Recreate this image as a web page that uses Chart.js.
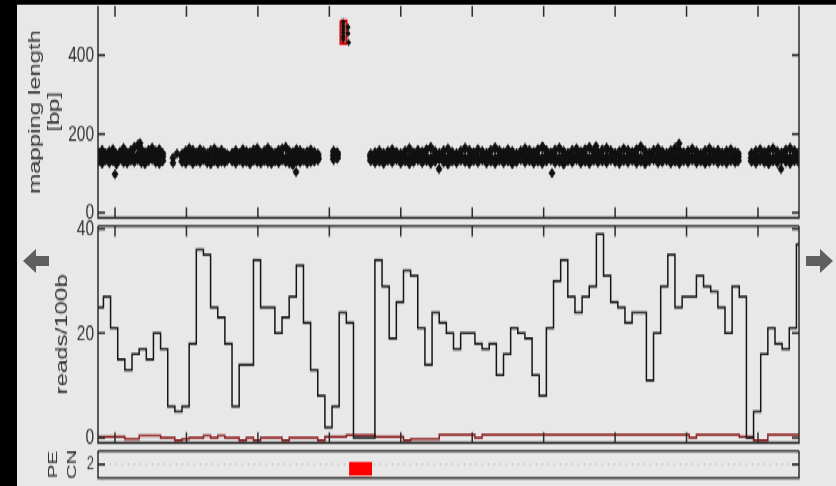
<!DOCTYPE html>
<html><head><meta charset="utf-8">
<script src="https://cdn.jsdelivr.net/npm/chart.js@4.4.0/dist/chart.umd.min.js"></script>
<style>
html,body{margin:0;padding:0;background:#000;width:836px;height:486px;overflow:hidden;}
#wrap{position:absolute;left:0;top:0;width:836px;height:324px;transform:scaleY(1.5);transform-origin:0 0;}
#panel{position:absolute;left:17px;top:3.33px;width:819px;height:320.67px;background:#e8e8e8;}
canvas{position:absolute;left:0;}
#arrows{position:absolute;left:0;top:0;}
</style></head><body>
<div id="wrap">
  <div id="panel"></div>
  <canvas id="c1" width="836" height="150" style="top:0px"></canvas>
  <canvas id="c2" width="836" height="152" style="top:146px"></canvas>
  <canvas id="c3" width="836" height="28" style="top:296px"></canvas>
</div>
<svg id="arrows" width="836" height="486">
  <polygon points="23,261 36,249 36,256 49,256 49,266 36,266 36,273" fill="#5e5e5e"/>
  <polygon points="833,261 820,249 820,256 806,256 806,266 820,266 820,273" fill="#5e5e5e"/>
</svg>
<script>
// ---------------- data ----------------
const xTickValues = [0,1000,2000,3000,4000,5000,6000,7000,8000,9000];
const X_MIN = -238, X_MAX = 9574;
const BIN_FIRST_START = -262, BIN_SIZE = 100;

// reads per 100 bp bin (black step line)
const reads = [25,27,21,15,13,16,17,15,20,17,
               6,5,6,18,36,35,25,23,18,6,
               14,14,34,25,25,20,23,27,33,22,
               13,8,2,6,24,22,0,0,0,34,
               29,19,26,32,31,21,14,24,22,20,
               17,20,20,18,17,18,12,16,21,20,
               19,12,8,21,30,34,27,24,27,29,
               39,31,26,25,22,24,24,11,20,29,
               35,25,27,27,31,29,28,25,20,29,
               27,0,5,16,21,18,17,21,37];
// low-quality reads per bin (dark red line)
const lowQual = [0.2,0.2,0.2,0.2,-0.2,-0.2,0.45,0.45,0.45,0,
                 0,-0.5,-0.2,0,0,0.45,0,0.45,0,0,
                 -0.5,0,-0.5,0,0,0,-0.5,0,0,0,
                 0,-0.5,0.2,0.2,0.2,0.5,0.5,0.5,0.5,0.2,
                 0.2,0.2,0.2,-0.5,-0.2,-0.2,-0.2,-0.2,0.6,0.6,
                 0.6,0.6,0.6,0,0.6,0.6,0.6,0.6,0.6,0.6,
                 0.6,0.6,0.6,0.6,0.6,0.6,0.6,0.6,0.6,0.6,
                 0.6,0.6,0.6,0.6,0.6,0.6,0.6,0.6,0.6,0.6,
                 0.6,0.6,0.6,0,0.6,0.6,0.6,0.6,0.6,0.6,
                 0.2,0.2,-0.5,-0.5,0.6,0.6,0.6,0.6,0.6];

// mapping length of read pairs (scatter), three readings per position
const mapPos = [-230,-180,-130,-80,-30,20,70,120,170,220,270,320,370,420,470,520,570,620,665,
  940,990,1040,1090,1140,1190,1240,1290,1340,1390,1440,1490,1535,1570,
  1640,1690,1740,1790,1840,1890,1940,1990,2040,2090,2140,2190,2240,2290,2340,2390,2440,2490,2540,2590,2640,2690,2740,2790,2840,
  3060,3110,
  3580,3640,3700,3760,3820,3880,3940,4000,4060,4120,4180,4240,4300,4360,4420,4480,4540,4600,4660,4720,
  4780,4840,4900,4960,5020,5080,5140,5200,5260,5320,5380,5440,5500,5560,5620,5680,5740,5800,5860,5920,
  5980,6040,6100,6160,6220,6280,6340,6400,6460,6520,6580,6640,6700,6760,6820,6880,6940,7000,7060,7120,
  7180,7240,7300,7360,7420,7480,7540,7600,7660,7720,7780,7840,7900,7960,8020,8080,8140,8200,8260,8320,
  8380,8440,8500,8560,8620,8680,8720,
  8910,8970,9030,9090,9150,9210,9270,9330,9390,9450,9510,9570];
const mapLenHi = [152,158,149,155,160,147,153,162,150,157,165,171,160,152,158,163,155,160,150,
  148,156,162,158,151,160,155,149,157,161,153,158,150,147,
  150,157,149,160,155,152,159,162,150,156,163,154,150,158,161,165,155,152,160,157,150,154,159,153,148,
  156,152,
  148,152,157,150,155,160,153,149,156,162,151,158,154,160,165,155,150,157,161,153,
  149,156,163,158,152,160,155,150,158,164,157,152,160,155,149,156,162,158,153,160,
  166,157,151,159,163,155,150,158,161,154,160,165,156,152,159,163,157,150,155,161,
  158,153,160,167,156,151,158,162,155,150,157,163,159,152,156,161,155,149,157,162,
  154,158,151,156,160,153,150,
  150,156,160,153,158,162,155,151,159,163,157,152];
const mapLenMid = [142,139,144,140,145,138,143,141,139,144,140,146,142,139,143,145,140,138,142,
  141,138,143,140,145,139,142,144,138,141,143,140,139,142,
  140,144,138,142,145,139,141,143,138,144,140,142,139,145,141,138,143,140,142,139,144,141,138,143,140,
  145,146,
  141,144,139,143,140,145,138,142,144,140,143,139,145,141,138,144,140,142,139,145,
  140,143,138,141,144,139,142,145,140,138,143,141,144,139,142,140,145,138,143,141,
  139,144,140,142,138,145,141,139,143,140,144,138,142,145,140,141,139,143,144,138,
  142,140,145,139,141,143,138,144,140,142,139,145,141,138,143,140,144,139,142,141,
  138,143,140,145,139,142,141,
  140,143,139,145,141,138,144,140,142,139,143,141];
const mapLenLo = [131,126,135,128,133,124,138,129,127,134,130,136,128,125,133,137,129,126,132,
  130,127,134,126,132,129,136,128,125,133,127,131,129,134,
  132,127,135,128,131,125,134,130,127,133,129,126,132,128,135,130,127,122,131,129,134,127,130,132,135,
  136,139,
  133,128,131,126,134,129,136,127,132,125,130,135,128,133,126,131,137,129,124,132,
  128,134,130,126,133,129,135,127,131,126,134,128,132,125,130,136,129,133,127,131,
  126,132,135,128,130,124,133,129,136,127,131,126,134,129,132,128,135,130,126,133,
  129,134,127,131,125,132,136,128,130,134,127,131,126,133,129,135,128,132,126,130,
  134,128,131,127,133,129,132,
  131,127,134,129,125,132,128,135,130,126,133,129];
const outlierPos = [0,350,812,812,868,2534,4535,5991,6117,6733,7895,9322];
const outlierLen = [98,177,140,126,150,103,111,166,101,169,176,111];
// long-insert read pairs (flagged)
const highPos = [3195,3195,3195,3195,3195,3195,3262,3262,3270];
const highLen = [484,475,466,457,448,440,472,456,433];
const flagRegion = {start:3156, end:3240, low:430, high:488};

const lenTicks = [0,200,400];
const readTicks = [0,20,40];
const cnTicks = [2];
const cnBaseline = 2;
const cnCall = {start:3276, end:3598, low:0.3, high:2.37};

// ---------------- drawing ----------------
Chart.defaults.font.family = "'Liberation Sans', Arial, sans-serif";
Chart.defaults.color = '#333';

const framePlugin = {
  id: 'frame',
  afterDatasetsDraw(chart, args, o) {
    const {ctx, chartArea: a, scales} = chart;
    ctx.save();
    ctx.strokeStyle = '#2b2b2b';
    ctx.lineWidth = 1.5;
    ctx.beginPath();
    if (o.xTicks) {
      for (const v of o.xTicks) {
        const px = scales.x.getPixelForValue(v);
        ctx.moveTo(px, a.top); ctx.lineTo(px, a.top + 7);
        ctx.moveTo(px, a.bottom); ctx.lineTo(px, a.bottom - 7);
      }
    }
    if (o.yTicks) {
      for (const v of o.yTicks) {
        const py = scales.y.getPixelForValue(v);
        ctx.moveTo(a.left, py); ctx.lineTo(a.left + 7, py);
        ctx.moveTo(a.right, py); ctx.lineTo(a.right - 7, py);
      }
    }
    if (o.drawTop) { ctx.moveTo(a.left, a.top); ctx.lineTo(a.right, a.top); }
    ctx.moveTo(a.right, a.top); ctx.lineTo(a.right, a.bottom);
    ctx.lineTo(a.left, a.bottom); ctx.lineTo(a.left, a.top);
    ctx.stroke();
    ctx.restore();
  }
};

function xAxis() {
  return {type:'linear', min:X_MIN, max:X_MAX, display:false};
}
function yAxis(min, max, ticks, title, titleSize, lh, padTop, tickSize) {
  return {
    type:'linear', position:'left', min, max,
    afterBuildTicks: s => { s.ticks = ticks.map(v => ({value:v})); },
    afterFit: s => { s.width = 98; s.paddingTop = 0; s.paddingBottom = 0; },
    grid:{display:false, drawTicks:false},
    border:{display:false},
    ticks:{color:'#333', padding:4, font:{size:tickSize}, callback: v => String(v)},
    title:{display:true, text:title, color:'#333', font:{size:titleSize, lineHeight:lh}, padding:{top:padTop, bottom:0}}
  };
}
function baseOpts(pad) {
  return {
    responsive:false, animation:false, devicePixelRatio:1,
    layout:{padding:pad},
    plugins:{legend:{display:false}, tooltip:{enabled:false}}
  };
}

// top panel: mapping length
const bandPts = [];
mapPos.forEach((x,i) => {
  bandPts.push({x, y:mapLenHi[i]});
  bandPts.push({x, y:mapLenMid[i]});
  bandPts.push({x, y:mapLenLo[i]});
});
const o1 = baseOpts({left:0, right:37, top:3.33, bottom:4.67});
o1.scales = {x:xAxis(), y:yAxis(-13, 525, lenTicks, ['mapping length','[bp]'], 16, 1.15, 26.8, 15.5)};
o1.plugins.frame = {xTicks:xTickValues, yTicks:lenTicks, drawTop:false};
new Chart(document.getElementById('c1'), {
  type:'scatter',
  data:{datasets:[
    {data:bandPts, pointStyle:'rectRot', pointRadius:4, backgroundColor:'#111', borderWidth:0},
    {data:outlierPos.map((x,i)=>({x, y:outlierLen[i]})), pointStyle:'rectRot', pointRadius:3.5, backgroundColor:'#111', borderWidth:0},
    {data:highPos.map((x,i)=>({x, y:highLen[i]})), pointStyle:'rectRot', pointRadius:2.5, backgroundColor:'#111', borderWidth:0},
    {data:[{x:flagRegion.start,y:flagRegion.high},{x:flagRegion.end,y:flagRegion.high},{x:flagRegion.end,y:flagRegion.low},{x:flagRegion.start,y:flagRegion.low},{x:flagRegion.start,y:flagRegion.high}],
     showLine:true, borderColor:'#e00000', borderWidth:2, pointRadius:0, fill:false, borderJoinStyle:'miter'}
  ]},
  options:o1, plugins:[framePlugin]
});

// middle panel: reads per 100 bp
function stepPoints(vals) {
  const pts = [];
  vals.forEach((v,i) => {
    const s = BIN_FIRST_START + i*BIN_SIZE;
    pts.push({x:s, y:v}); pts.push({x:s+BIN_SIZE, y:v});
  });
  return pts;
}
const o2 = baseOpts({left:0, right:37, top:4.67, bottom:2.67});
o2.scales = {x:xAxis(), y:yAxis(-0.96, 40.57, readTicks, 'reads/100b', 16, 1.15, 53.8, 15.5)};
o2.plugins.frame = {xTicks:xTickValues, yTicks:readTicks, drawTop:true};
new Chart(document.getElementById('c2'), {
  type:'line',
  data:{datasets:[
    {data:stepPoints(reads), borderColor:'#151515', borderWidth:1.5, pointRadius:0, fill:false, tension:0, borderJoinStyle:'miter'},
    {data:stepPoints(lowQual), borderColor:'#8a1a1a', borderWidth:1.5, pointRadius:0, fill:false, tension:0}
  ]},
  options:o2, plugins:[framePlugin]
});

// bottom panel: PE copy number
const o3 = baseOpts({left:0, right:37, top:4.67, bottom:5.33});
o3.scales = {x:xAxis(), y:yAxis(0, 4, cnTicks, ['PE','CN'], 13.5, 1.4, 43.5, 13)};
o3.plugins.frame = {xTicks:null, yTicks:cnTicks, drawTop:true};
new Chart(document.getElementById('c3'), {
  type:'line',
  data:{datasets:[
    {data:[{x:cnCall.start,y:cnCall.high},{x:cnCall.end,y:cnCall.high}], borderWidth:0, pointRadius:0,
     backgroundColor:'#ff0000', fill:{value:cnCall.low}},
    {data:[{x:X_MIN,y:cnBaseline},{x:X_MAX,y:cnBaseline}], borderColor:'#b0b0b0', borderWidth:1, borderDash:[1,5], pointRadius:0, fill:false}
  ]},
  options:o3, plugins:[framePlugin]
});
</script>
</body></html>
